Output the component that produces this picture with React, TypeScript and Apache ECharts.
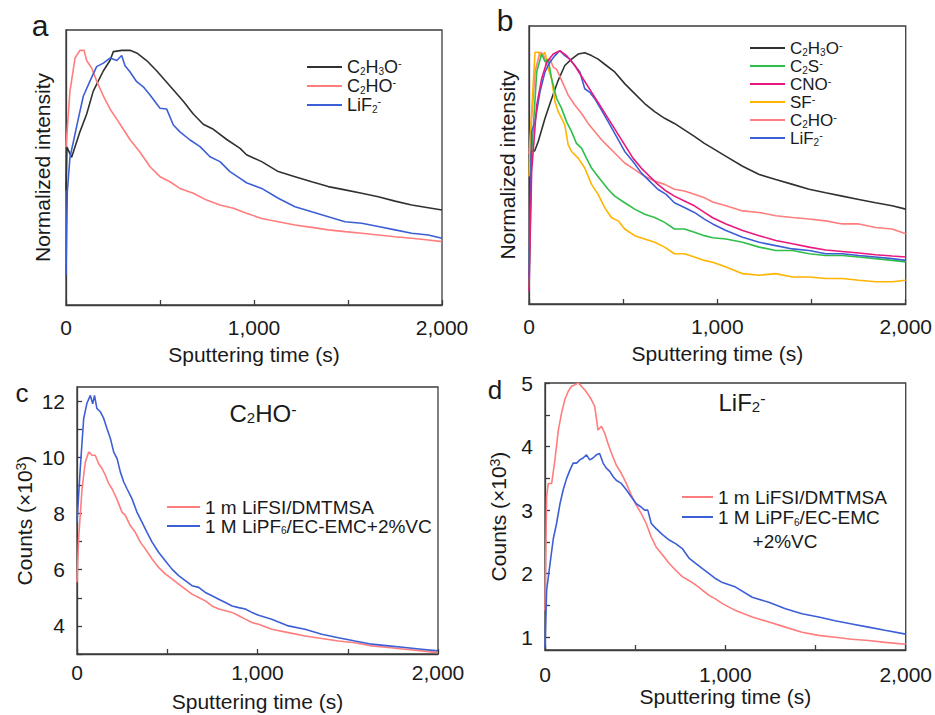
import React, { useEffect, useRef } from "react";
import * as echarts from "echarts";

// ---------- data (time in s, value) ----------
// Panel a (normalized intensity)
const A_C2H3O: number[][] = [[0,0.45],[5,0.62],[30,0.58],[74,0.68],[110,0.75],[145,0.84],[172,0.88],[199,0.92],[234,0.96],[252,0.995],[296,1.0],[340,1.0],[376,0.99],[429,0.96],[482,0.92],[553,0.86],[624,0.80],[677,0.75],[730,0.71],[784,0.69],[855,0.65],[926,0.615],[960,0.59],[1041,0.563],[1129,0.524],[1218,0.504],[1307,0.484],[1395,0.465],[1484,0.452],[1573,0.439],[1661,0.425],[1750,0.408],[1839,0.393],[1927,0.382],[2000,0.373]];
const A_C2HO: number[][] = [[0,0.62],[21,0.84],[48,0.97],[74,1.0],[96,1.0],[110,0.96],[137,0.93],[163,0.88],[199,0.82],[234,0.77],[270,0.73],[305,0.69],[340,0.65],[394,0.60],[447,0.543],[500,0.504],[553,0.484],[606,0.458],[677,0.439],[748,0.412],[819,0.393],[890,0.38],[960,0.36],[1041,0.34],[1129,0.327],[1218,0.314],[1307,0.305],[1395,0.295],[1484,0.288],[1573,0.282],[1661,0.275],[1750,0.268],[1839,0.262],[1927,0.255],[2000,0.249]];
const A_LiF2: number[][] = [[0,0.118],[7,0.445],[21,0.58],[39,0.64],[65,0.73],[92,0.82],[128,0.88],[163,0.936],[199,0.95],[234,0.97],[270,0.96],[296,0.98],[314,0.94],[340,0.916],[376,0.877],[411,0.857],[447,0.825],[500,0.773],[535,0.77],[571,0.707],[606,0.68],[660,0.648],[713,0.622],[766,0.582],[819,0.563],[872,0.524],[926,0.497],[960,0.48],[1041,0.458],[1129,0.419],[1218,0.386],[1307,0.366],[1395,0.347],[1484,0.327],[1573,0.321],[1661,0.308],[1750,0.295],[1839,0.282],[1927,0.275],[2000,0.262]];

// Panel b (normalized intensity)
const B_C2H3O: number[][] = [[0,0.5],[8,0.6],[30,0.6],[49,0.637],[85,0.728],[120,0.805],[155,0.877],[190,0.935],[226,0.96],[261,0.98],[296,0.985],[332,0.974],[367,0.96],[402,0.94],[455,0.91],[508,0.864],[561,0.825],[614,0.786],[667,0.754],[720,0.728],[772,0.708],[825,0.683],[878,0.657],[931,0.63],[958,0.618],[1046,0.579],[1134,0.54],[1222,0.508],[1310,0.488],[1399,0.469],[1487,0.45],[1575,0.436],[1663,0.423],[1751,0.41],[1840,0.397],[1928,0.385],[2000,0.372]];
const B_C2S: number[][] = [[0,0.067],[14,0.587],[41,0.91],[67,0.98],[85,0.95],[102,0.96],[120,0.883],[147,0.805],[173,0.767],[199,0.715],[226,0.676],[252,0.63],[279,0.611],[305,0.572],[332,0.533],[358,0.508],[385,0.482],[420,0.45],[455,0.423],[508,0.397],[561,0.372],[614,0.352],[667,0.339],[720,0.32],[772,0.294],[825,0.294],[878,0.281],[931,0.268],[975,0.26],[1046,0.255],[1134,0.242],[1222,0.223],[1310,0.21],[1399,0.21],[1487,0.197],[1575,0.19],[1663,0.19],[1751,0.184],[1840,0.178],[1928,0.171],[2000,0.165]];
const B_CNO: number[][] = [[0,0.05],[14,0.52],[41,0.78],[67,0.883],[94,0.948],[129,0.98],[164,0.993],[199,0.974],[243,0.935],[287,0.883],[332,0.831],[376,0.78],[420,0.728],[464,0.676],[508,0.624],[552,0.572],[596,0.533],[640,0.501],[684,0.469],[728,0.443],[772,0.423],[825,0.404],[878,0.385],[931,0.359],[975,0.338],[1046,0.314],[1134,0.288],[1222,0.268],[1310,0.249],[1399,0.236],[1487,0.223],[1575,0.212],[1663,0.206],[1751,0.2],[1840,0.193],[1928,0.188],[2000,0.184]];
const B_SF: number[][] = [[0,0.5],[10,0.7],[32,0.987],[49,0.987],[67,0.97],[85,0.987],[102,0.922],[120,0.883],[138,0.793],[155,0.754],[173,0.728],[190,0.702],[208,0.624],[226,0.598],[261,0.572],[296,0.533],[332,0.469],[367,0.43],[402,0.378],[437,0.339],[473,0.326],[508,0.294],[561,0.268],[614,0.255],[667,0.242],[720,0.223],[772,0.197],[825,0.197],[878,0.184],[931,0.171],[975,0.164],[1046,0.145],[1134,0.119],[1222,0.113],[1310,0.119],[1399,0.106],[1487,0.106],[1575,0.1],[1663,0.1],[1751,0.093],[1840,0.087],[1928,0.087],[2000,0.093]];
const B_C2HO: number[][] = [[0,0.587],[32,0.91],[58,0.987],[76,0.98],[94,0.935],[111,0.96],[129,0.929],[147,0.92],[173,0.877],[208,0.819],[243,0.78],[279,0.747],[314,0.708],[349,0.676],[385,0.644],[420,0.618],[455,0.592],[508,0.553],[561,0.527],[614,0.501],[667,0.482],[720,0.469],[772,0.45],[825,0.443],[878,0.43],[931,0.417],[975,0.40],[1046,0.385],[1134,0.365],[1222,0.359],[1310,0.346],[1399,0.339],[1487,0.333],[1575,0.326],[1663,0.314],[1751,0.314],[1840,0.30],[1928,0.294],[2000,0.275]];
const B_LiF2: number[][] = [[0,0.1],[14,0.676],[32,0.715],[58,0.831],[85,0.91],[111,0.948],[138,0.974],[164,0.993],[190,0.974],[217,0.96],[243,0.935],[270,0.91],[296,0.844],[323,0.83],[349,0.805],[385,0.76],[420,0.715],[464,0.657],[508,0.598],[552,0.559],[596,0.514],[640,0.482],[684,0.45],[728,0.43],[772,0.397],[825,0.378],[878,0.359],[931,0.333],[975,0.314],[1046,0.288],[1134,0.262],[1222,0.242],[1310,0.229],[1399,0.216],[1487,0.21],[1575,0.197],[1663,0.197],[1751,0.19],[1840,0.184],[1928,0.178],[2000,0.171]];

// Panel c (C2HO- counts, x10^3)
const C_LIFSI: number[][] = [[0,5.55],[9,7.1],[28,8.88],[46,9.83],[65,10.19],[83,10.07],[101,10.07],[120,9.77],[139,9.6],[157,9.36],[176,9.06],[194,8.88],[212,8.64],[231,8.35],[249,8.05],[268,7.93],[295,7.57],[323,7.33],[351,6.98],[378,6.74],[416,6.38],[452,6.08],[489,5.85],[526,5.67],[563,5.49],[600,5.31],[637,5.13],[674,5.01],[711,4.89],[748,4.71],[785,4.6],[822,4.54],[859,4.48],[896,4.36],[932,4.24],[969,4.12],[1006,4.06],[1079,3.88],[1171,3.76],[1263,3.64],[1356,3.55],[1448,3.46],[1540,3.4],[1633,3.29],[1725,3.23],[1817,3.17],[1910,3.11],[2000,3.05]];
const C_LIPF6: number[][] = [[0,7.69],[18,9.6],[37,11.38],[55,11.92],[74,12.2],[87,11.9],[97,12.2],[110,11.74],[129,11.62],[148,11.38],[166,11.02],[185,10.67],[203,10.19],[222,9.95],[240,9.48],[259,9.12],[277,8.88],[305,8.52],[332,8.05],[360,7.69],[388,7.33],[416,6.98],[452,6.62],[489,6.32],[526,6.02],[563,5.79],[600,5.61],[637,5.43],[674,5.37],[711,5.19],[748,5.07],[785,4.95],[822,4.83],[859,4.71],[896,4.65],[932,4.6],[969,4.48],[1006,4.38],[1079,4.24],[1171,4.0],[1263,3.88],[1356,3.7],[1448,3.58],[1540,3.46],[1633,3.35],[1725,3.29],[1817,3.23],[1910,3.17],[2000,3.11]];

// Panel d (LiF2- counts, x10^3)
const D_LIFSI: number[][] = [[0,1.42],[9,3.21],[18,3.42],[37,3.42],[55,3.79],[74,4.26],[92,4.53],[110,4.74],[129,4.87],[147,4.95],[165,4.97],[184,5.0],[202,4.95],[221,4.89],[239,4.82],[257,4.74],[276,4.63],[294,4.26],[313,4.32],[331,4.21],[349,4.05],[368,3.9],[395,3.71],[423,3.58],[451,3.42],[478,3.24],[506,3.08],[533,2.95],[561,2.79],[589,2.58],[616,2.42],[653,2.29],[689,2.16],[726,2.05],[763,1.95],[800,1.89],[837,1.82],[873,1.74],[910,1.66],[947,1.6],[984,1.53],[1057,1.42],[1149,1.32],[1241,1.24],[1333,1.16],[1425,1.08],[1517,1.03],[1609,1.0],[1701,0.97],[1793,0.95],[1885,0.92],[2000,0.89]];
const D_LIPF6: number[][] = [[0,0.84],[9,1.74],[28,2.16],[46,2.55],[64,2.79],[83,3.1],[101,3.32],[120,3.5],[138,3.63],[156,3.74],[175,3.74],[193,3.79],[211,3.82],[230,3.87],[248,3.79],[266,3.82],[285,3.87],[303,3.89],[322,3.74],[340,3.66],[359,3.61],[377,3.53],[395,3.47],[423,3.42],[451,3.32],[478,3.21],[506,3.1],[533,3.05],[552,3.0],[570,3.0],[589,2.79],[616,2.71],[653,2.61],[689,2.53],[726,2.47],[763,2.39],[800,2.24],[837,2.16],[873,2.08],[910,2.0],[947,1.92],[984,1.86],[1057,1.79],[1149,1.63],[1241,1.55],[1333,1.45],[1425,1.37],[1517,1.32],[1609,1.26],[1701,1.21],[1793,1.16],[1885,1.11],[2000,1.05]];

// ---------- ticks / labels ----------
const X_TICKS = [0, 500, 1000, 1500, 2000];
const X_LABELS = [0, 1000, 2000];
const C_Y_TICKS = [3, 4, 5, 6, 7, 8, 9, 10, 11, 12];
const C_Y_LABELS = [4, 6, 8, 10, 12];
const D_Y_TICKS = [1, 1.5, 2, 2.5, 3, 3.5, 4, 4.5, 5];
const D_Y_LABELS = [1, 2, 3, 4, 5];

const FONT = "'Liberation Sans', Arial, sans-serif";
const TXT = "#1a1a1a";
const AX = "#3c3c3c";

const COL = {
  black: "#2e3330",
  pink: "#ff7d7d",
  blue: "#3d5fd6",
  green: "#2fbf48",
  magenta: "#e8197e",
  yellow: "#ffb400",
};

const LABEL: Record<string, string> = {
  "C2H3O-": "C{sub|2}H{sub|3}O{sup|-}",
  "C2HO-": "C{sub|2}HO{sup|-}",
  "LiF2-": "LiF{sub|2}{sup|-}",
  "C2S-": "C{sub|2}S{sup|-}",
  "CNO-": "CNO{sup|-}",
  "SF-": "SF{sup|-}",
  "1 m LiFSI/DMTMSA": "1 m LiFSI/DMTMSA",
  "1 M LiPF6/EC-EMC+2%VC": "1 M LiPF{sub|6}/EC-EMC+2%VC",
};

// sub / sup tokens; token line height chosen so the offset is ~4px from the line centre
const richSmall = (lh: number) => ({
  sub: { fontSize: 10, lineHeight: lh - 8, verticalAlign: "bottom", fontFamily: FONT, color: TXT },
  sup: { fontSize: 11, lineHeight: lh - 8, verticalAlign: "top", fontFamily: FONT, color: TXT },
});

export default function App() {
  const ref = useRef<HTMLDivElement>(null);
  useEffect(() => {
    if (!ref.current) return;
    const chart = echarts.init(ref.current, undefined, { renderer: "svg" });

    const grids = [
      { left: 66, top: 30, width: 376, height: 275 },
      { left: 529, top: 26, width: 378, height: 278 },
      { left: 77, top: 387, width: 361, height: 267 },
      { left: 545, top: 383, width: 363, height: 267 },
    ].map((g) => ({ ...g, show: true, borderColor: AX, borderWidth: 1.3, backgroundColor: "transparent" }));

    const xAxis = (gi: number, margin: number, gap: number) => ({
      gridIndex: gi,
      type: "value",
      min: 0,
      max: 2000,
      axisLine: { show: true, lineStyle: { color: AX, width: 1.3 } },
      axisTick: { show: true, inside: true, length: 5, customValues: X_TICKS, lineStyle: { color: AX, width: 1.3 } },
      axisLabel: {
        customValues: X_LABELS,
        formatter: (v: number) => v.toLocaleString("en-US"),
        fontSize: 21,
        fontFamily: FONT,
        color: TXT,
        margin,
      },
      splitLine: { show: false },
      name: "Sputtering time (s)",
      nameLocation: "middle",
      nameGap: gap,
      nameTextStyle: { fontSize: 21, fontFamily: FONT, color: TXT },
    });

    const normY = (gi: number, max: number, gap: number) => ({
      gridIndex: gi,
      type: "value",
      min: 0,
      max,
      axisLine: { show: true, lineStyle: { color: AX, width: 1.3 } },
      axisTick: { show: false },
      axisLabel: { show: false },
      splitLine: { show: false },
      name: "Normalized intensity",
      nameLocation: "middle",
      nameGap: gap,
      nameTextStyle: { fontSize: 21, fontFamily: FONT, color: TXT },
    });

    const countY = (gi: number, min: number, max: number, ticks: number[], labels: number[], gap: number) => ({
      gridIndex: gi,
      type: "value",
      min,
      max,
      axisLine: { show: true, lineStyle: { color: AX, width: 1.3 } },
      axisTick: { show: true, inside: true, length: 5, customValues: ticks, lineStyle: { color: AX, width: 1.3 } },
      axisLabel: { customValues: labels, fontSize: 21, fontFamily: FONT, color: TXT, margin: 12 },
      splitLine: { show: false },
      name: "Counts (×10{sup|3})",
      nameLocation: "middle",
      nameGap: gap,
      nameTextStyle: {
        fontSize: 21,
        fontFamily: FONT,
        color: TXT,
        rich: { sup: { fontSize: 14, lineHeight: 8, verticalAlign: "top", fontFamily: FONT, color: TXT } },
      },
    });

    const line = (name: string, data: number[][], color: string, idx: number) => ({
      type: "line",
      name,
      data,
      xAxisIndex: idx,
      yAxisIndex: idx,
      showSymbol: false,
      symbol: "none",
      lineStyle: { color, width: 1.6 },
      itemStyle: { color },
      z: 2,
    });

    const legend = (
      names: string[],
      left: number,
      top: number,
      itemWidth: number,
      fs: number,
      lh: number,
      fmt?: (n: string) => string
    ) => ({
      orient: "vertical",
      left,
      top,
      padding: 0,
      itemGap: 0,
      itemWidth,
      itemHeight: 2,
      icon: "rect",
      selectedMode: false,
      data: names,
      formatter: fmt || ((n: string) => LABEL[n] || n),
      textStyle: { fontSize: fs, lineHeight: lh, fontFamily: FONT, color: TXT, rich: richSmall(lh) },
    });

    const option: any = {
      animation: false,
      backgroundColor: "#ffffff",
      grid: grids,
      xAxis: [xAxis(0, 12, 39), xAxis(1, 12, 39), xAxis(2, 8, 37), xAxis(3, 14, 36)],
      yAxis: [
        normY(0, 1.08, 13),
        normY(1, 1.09, 11),
        countY(2, 3, 12.5, C_Y_TICKS, C_Y_LABELS, 42),
        countY(3, 0.8, 5, D_Y_TICKS, D_Y_LABELS, 36),
      ],
      legend: [
        legend(["C2H3O-", "C2HO-", "LiF2-"], 307, 57.5, 35, 18, 19),
        legend(["C2H3O-", "C2S-", "CNO-", "SF-", "C2HO-", "LiF2-"], 750, 39, 35, 17, 18),
        legend(["1 m LiFSI/DMTMSA", "1 M LiPF6/EC-EMC+2%VC"], 167, 497.5, 33, 19, 19),
        legend(["1 m LiFSI/DMTMSA", "1 M LiPF6/EC-EMC+2%VC"], 682, 487, 31, 19, 20, (n: string) =>
          n === "1 m LiFSI/DMTMSA" ? "1 m LiFSI/DMTMSA" : "1 M LiPF{sub|6}/EC-EMC"
        ),
      ],
      series: [
        line("C2H3O-", A_C2H3O, COL.black, 0),
        line("C2HO-", A_C2HO, COL.pink, 0),
        line("LiF2-", A_LiF2, COL.blue, 0),
        line("C2H3O-", B_C2H3O, COL.black, 1),
        line("C2HO-", B_C2HO, COL.pink, 1),
        line("SF-", B_SF, COL.yellow, 1),
        line("C2S-", B_C2S, COL.green, 1),
        line("LiF2-", B_LiF2, COL.blue, 1),
        line("CNO-", B_CNO, COL.magenta, 1),
        line("1 m LiFSI/DMTMSA", C_LIFSI, COL.pink, 2),
        line("1 M LiPF6/EC-EMC+2%VC", C_LIPF6, COL.blue, 2),
        line("1 m LiFSI/DMTMSA", D_LIFSI, COL.pink, 3),
        line("1 M LiPF6/EC-EMC+2%VC", D_LIPF6, COL.blue, 3),
      ],
      graphic: [
        { type: "text", x: 40, y: 25, style: { text: "a", fontSize: 30, fontFamily: FONT, fill: TXT, textAlign: "center", textVerticalAlign: "middle" } },
        { type: "text", x: 505, y: 20, style: { text: "b", fontSize: 30, fontFamily: FONT, fill: TXT, textAlign: "center", textVerticalAlign: "middle" } },
        { type: "text", x: 22, y: 393, style: { text: "c", fontSize: 26, fontFamily: FONT, fill: TXT, textAlign: "center", textVerticalAlign: "middle" } },
        { type: "text", x: 495, y: 390, style: { text: "d", fontSize: 26, fontFamily: FONT, fill: TXT, textAlign: "center", textVerticalAlign: "middle" } },
        {
          type: "text",
          x: 263,
          y: 413,
          style: {
            text: "C{sub|2}HO{sup|-}",
            fontSize: 24,
            lineHeight: 24,
            fontFamily: FONT,
            fill: TXT,
            textAlign: "center",
            textVerticalAlign: "middle",
            rich: {
              sub: { fontSize: 15, lineHeight: 6, verticalAlign: "bottom", fontFamily: FONT, fill: TXT },
              sup: { fontSize: 16, lineHeight: 8, verticalAlign: "top", fontFamily: FONT, fill: TXT },
            },
          },
        },
        {
          type: "text",
          x: 742,
          y: 402,
          style: {
            text: "LiF{sub|2}{sup|-}",
            fontSize: 24,
            lineHeight: 24,
            fontFamily: FONT,
            fill: TXT,
            textAlign: "center",
            textVerticalAlign: "middle",
            rich: {
              sub: { fontSize: 15, lineHeight: 6, verticalAlign: "bottom", fontFamily: FONT, fill: TXT },
              sup: { fontSize: 16, lineHeight: 8, verticalAlign: "top", fontFamily: FONT, fill: TXT },
            },
          },
        },
        { type: "text", x: 785, y: 541, style: { text: "+2%VC", fontSize: 19, fontFamily: FONT, fill: TXT, textAlign: "center", textVerticalAlign: "middle" } },
      ],
    };

    chart.setOption(option);
    return () => chart.dispose();
  }, []);

  return <div ref={ref} style={{ position: "fixed", left: 0, top: 0, width: 935, height: 715, background: "#fff" }} />;
}
